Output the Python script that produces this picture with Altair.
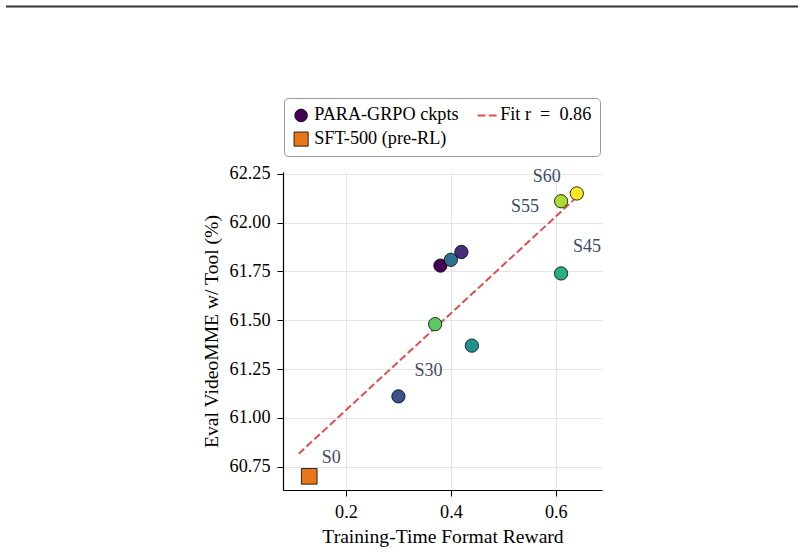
import altair as alt
import numpy as np
import pandas as pd

# PARA-GRPO checkpoints (training step, format reward, VideoMME accuracy)
ckpt_steps = [20, 25, 30, 35, 40, 45, 50, 55, 60]
ckpt_reward = [0.38, 0.42, 0.30, 0.40, 0.44, 0.61, 0.37, 0.61, 0.64]
ckpt_videomme = [61.78, 61.85, 61.11, 61.81, 61.37, 61.74, 61.48, 62.11, 62.15]

# SFT starting point before RL
sft_step = [0]
sft_reward = [0.13]
sft_videomme = [60.70]

x_ticks = [0.2, 0.4, 0.6]
y_ticks = [60.75, 61.00, 61.25, 61.50, 61.75, 62.00, 62.25]

# Steps that get a text annotation, with the label's pixel offset
label_offsets = {0: (22, -18), 30: (30, -25), 45: (26, -26), 55: (-36, 6), 60: (-30, -16)}

SERIES_CKPT = "PARA-GRPO ckpts"
SERIES_SFT = "SFT-500 (pre-RL)"

all_reward = np.array(sft_reward + ckpt_reward)
all_videomme = np.array(sft_videomme + ckpt_videomme)
r_value = np.corrcoef(all_reward, all_videomme)[0, 1]
SERIES_FIT = f"Fit r\u2002=\u2002{r_value:.2f}"
# legend entries fill column by column: first column holds ckpts and SFT
series_domain = [SERIES_CKPT, SERIES_SFT, SERIES_FIT]

FONT = "Liberation Serif"
RED = "#dd4f51"
ORANGE = "#e8771b"
PURPLE = "#440154"
LABEL_COLOR = "#3d4a66"
DASH_PATH = "M-1,0H-0.18M0.18,0H1"

ckpt_df = pd.DataFrame({
    "step": ckpt_steps,
    "reward": ckpt_reward,
    "videomme": ckpt_videomme,
    "series": SERIES_CKPT,
})
sft_df = pd.DataFrame({
    "step": sft_step,
    "reward": sft_reward,
    "videomme": sft_videomme,
    "series": SERIES_SFT,
})
all_df = pd.concat([sft_df, ckpt_df], ignore_index=True)
all_df["label"] = ["S" + str(s) for s in all_df["step"]]
legend_df = pd.DataFrame({"series": series_domain})

x_enc = alt.X(
    "reward:Q",
    title="Training-Time Format Reward",
    scale=alt.Scale(domain=[0.08, 0.688], nice=False, zero=False),
    axis=alt.Axis(values=x_ticks, format=".1f"),
)
y_enc = alt.Y(
    "videomme:Q",
    title="Eval VideoMME w/ Tool (%)",
    scale=alt.Scale(domain=[60.63, 62.26], nice=False, zero=False),
    axis=alt.Axis(values=y_ticks, format=".2f"),
)

# Per-entry symbol width and size, evaluated against each legend entry
is_fit = f"datum.value === '{SERIES_FIT}'"
is_sft = f"datum.value === '{SERIES_SFT}'"
width_expr = f"{is_fit} ? 2 : 0.8"
size_expr = f"{is_fit} ? 361 : ({is_sft} ? 200 : 160)"

legend = alt.Legend(
    title=None,
    orient="none",
    legendX=1,
    legendY=-74,
    columns=2,
    columnPadding=14,
    rowPadding=5,
    padding=8,
    labelOffset=4,
    labelFont=FONT,
    labelFontSize=18.2,
    labelColor="black",
    fillColor="white",
    strokeColor="#9a9a9a",
    cornerRadius=4,
    symbolOpacity=1,
    symbolStrokeWidth=alt.ExprRef(width_expr),
    symbolSize=alt.ExprRef(size_expr),
)

# Invisible layer that only carries the legend
legend_layer = alt.Chart(legend_df).mark_point(filled=True, opacity=0).encode(
    shape=alt.Shape(
        "series:N",
        scale=alt.Scale(domain=series_domain, range=["circle", "square", DASH_PATH]),
        legend=legend,
    ),
    color=alt.Color(
        "series:N",
        scale=alt.Scale(domain=series_domain, range=[PURPLE, ORANGE, RED]),
        legend=legend,
    ),
    stroke=alt.Stroke(
        "series:N",
        scale=alt.Scale(domain=series_domain, range=["black", "black", RED]),
        legend=legend,
    ),
)

fit = alt.Chart(all_df).transform_regression(
    "reward", "videomme",
    extent=[float(all_reward.min()) - 0.02, float(all_reward.max()) + 0.01],
).mark_line(color=RED, strokeWidth=2, strokeDash=[7.4, 3.2]).encode(x=x_enc, y=y_enc)

ckpt_points = alt.Chart(ckpt_df).mark_point(
    filled=True, shape="circle", size=177, stroke="black", strokeWidth=0.8, opacity=1
).encode(
    x=x_enc,
    y=y_enc,
    fill=alt.Fill("step:Q", scale=alt.Scale(scheme="viridis"), legend=None),
)

sft_points = alt.Chart(sft_df).mark_point(
    filled=True, shape="square", size=246, fill=ORANGE, stroke="black", strokeWidth=0.8, opacity=1
).encode(x=x_enc, y=y_enc)

label_layers = []
for step, (dx, dy) in label_offsets.items():
    label_layers.append(
        alt.Chart(all_df)
        .transform_filter(alt.datum.step == step)
        .mark_text(dx=dx, dy=dy, font=FONT, fontSize=18, color=LABEL_COLOR,
                   align="center", baseline="middle")
        .encode(x=x_enc, y=y_enc, text="label:N")
    )

# Thin rule across the top of the page
top_rule = alt.Chart(all_df.head(1)).mark_rule(color="#333333", strokeWidth=2).encode(
    x=alt.value(-277), x2=alt.value(515), y=alt.value(-165.5)
)

chart = alt.layer(legend_layer, fit, ckpt_points, sft_points, *label_layers, top_rule).properties(
    width=319,
    height=318,
    autosize=alt.AutoSizeParams(type="none"),
    padding={"left": 283, "top": 172, "right": 202, "bottom": 64},
).configure_view(stroke=None).configure_axis(
    labelFont=FONT,
    labelFontSize=18.2,
    labelColor="black",
    titleFont=FONT,
    titleFontSize=19.6,
    titleFontWeight="normal",
    titleColor="black",
    domainColor="black",
    domainWidth=1.2,
    tickColor="black",
    tickSize=6,
    tickWidth=1,
    gridColor="#e5e5e5",
    gridWidth=1,
).configure_axisX(labelPadding=7, titlePadding=7).configure_axisY(labelPadding=7, titlePadding=8)

chart.save("out.html", embed_options={"renderer": "svg", "actions": False})
